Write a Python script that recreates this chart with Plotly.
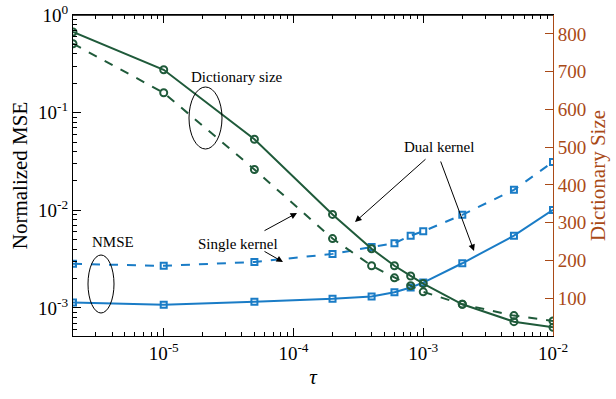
import plotly.graph_objects as go

# ---- data ----
tau = [2e-6, 1e-5, 5e-5, 2e-4, 4e-4, 6e-4, 8e-4, 1e-3, 2e-3, 5e-3, 1e-2]
nmse_dual = [1.14e-3, 1.08e-3, 1.16e-3, 1.24e-3, 1.31e-3, 1.45e-3, 1.62e-3, 1.82e-3, 2.87e-3, 5.5e-3, 1.01e-2]
nmse_single = [2.83e-3, 2.7e-3, 2.96e-3, 3.58e-3, 4.2e-3, 4.6e-3, 5.5e-3, 6.1e-3, 9.0e-3, 1.62e-2, 3.13e-2]
dict_dual = [805, 705, 521, 322, 231, 186, 159, 139, 84, 38, 23]
dict_single = [774, 644, 441, 258, 186, 154, 133, 117, 84, 54, 40]

x_tickvals = [1e-5, 1e-4, 1e-3, 1e-2]
x_ticktext = ["10<sup>-5</sup>", "10<sup>-4</sup>", "10<sup>-3</sup>", "10<sup>-2</sup>"]
y_tickvals = [1e-3, 1e-2, 1e-1, 1e0]
y_ticktext = ["10<sup>-3</sup>", "10<sup>-2</sup>", "10<sup>-1</sup>", "10<sup>0</sup>"]
y2_tickvals = [100, 200, 300, 400, 500, 600, 700, 800]

# minor tick positions (2..9 x 10^d)
x_minor = [k * 10.0 ** d for d in range(-6, -2) for k in range(2, 10)]
y_minor = [k * 10.0 ** d for d in range(-4, 0) for k in range(2, 10)]

GREEN = "#1f5a3a"
BLUE = "#1a7cc6"
BROWN = "#a94a17"
FONT = "Liberation Serif"
XR = [-5.699, -2]
YR = [-3.287, 0]

fig = go.Figure()
fig.add_trace(go.Scatter(x=tau, y=nmse_single, mode="lines+markers", yaxis="y",
                         line=dict(color=BLUE, width=2, dash="dash"),
                         marker=dict(symbol="square-open", size=6, color=BLUE, line=dict(width=2))))
fig.add_trace(go.Scatter(x=tau, y=nmse_dual, mode="lines+markers", yaxis="y",
                         line=dict(color=BLUE, width=2),
                         marker=dict(symbol="square-open", size=6, color=BLUE, line=dict(width=2))))
fig.add_trace(go.Scatter(x=tau, y=dict_single, mode="lines+markers", yaxis="y2",
                         line=dict(color=GREEN, width=2, dash="dash"),
                         marker=dict(symbol="circle-open", size=7, color=GREEN, line=dict(width=2))))
fig.add_trace(go.Scatter(x=tau, y=dict_dual, mode="lines+markers", yaxis="y2",
                         line=dict(color=GREEN, width=2),
                         marker=dict(symbol="circle-open", size=7, color=GREEN, line=dict(width=2))))

FW, FH = 616, 399
L, R, T, B = 73, 553, 15, 336
W, H = R - L, B - T


def px(x):
    return (x - L) / W


def py(y):
    return (B - y) / H


shapes = [
    dict(type="circle", xref="paper", yref="paper",
         x0=px(189), x1=px(222), y0=py(149), y1=py(87), line=dict(color="black", width=1)),
    dict(type="circle", xref="paper", yref="paper",
         x0=px(88), x1=px(114), y0=py(313), y1=py(255), line=dict(color="black", width=1)),
    dict(type="line", xref="paper", yref="paper", x0=0, x1=1, y0=1, y1=1,
         line=dict(color="black", width=1.5)),
]


def label(text, x, y):
    return dict(text=text, xref="paper", yref="paper", x=px(x), y=py(y), showarrow=False,
                xanchor="center", yanchor="middle",
                font=dict(family=FONT, size=15, color="black"))


def arrow(tail, tip):
    return dict(text=" ", xref="paper", yref="paper", x=px(tip[0]), y=py(tip[1]),
                ax=tail[0] - tip[0], ay=tail[1] - tip[1], axref="pixel", ayref="pixel",
                showarrow=True, arrowhead=2, arrowsize=1.3, arrowwidth=1, arrowcolor="black",
                standoff=0, startstandoff=0, font=dict(size=6))


annotations = [
    label("Dictionary size", 237, 77),
    label("NMSE", 113, 242),
    label("Dual kernel", 439, 147),
    label("Single kernel", 238, 244),
    arrow((428, 157), (355, 222)),
    arrow((439, 157), (474, 251)),
    arrow((262, 232), (297, 213)),
    arrow((262, 250), (283, 262)),
]

tick_common = dict(showgrid=False, zeroline=False, automargin=False, tickwidth=1)

fig.update_layout(
    width=FW, height=FH,
    margin=dict(l=L, r=FW - R, t=T, b=FH - B, autoexpand=False),
    paper_bgcolor="white", plot_bgcolor="white",
    showlegend=False,
    font=dict(family=FONT, size=19, color="black"),
    xaxis=dict(type="log", range=XR, tickvals=x_tickvals, ticktext=x_ticktext,
               ticks="inside", ticklen=8, tickcolor="black",
               minor=dict(tickmode="array", tickvals=x_minor, ticks="inside", ticklen=4,
                          tickcolor="black", tickwidth=1, showgrid=False),
               showline=True, linecolor="black", linewidth=1, mirror="ticks",
               tickfont=dict(family=FONT, size=19),
               title=dict(text="<i>τ</i>", font=dict(family=FONT, size=21), standoff=6),
               **tick_common),
    yaxis=dict(type="log", range=YR, tickvals=y_tickvals, ticktext=y_ticktext,
               ticks="inside", ticklen=8, tickcolor="black",
               minor=dict(tickmode="array", tickvals=y_minor, ticks="inside", ticklen=4,
                          tickcolor="black", tickwidth=1, showgrid=False),
               showline=True, linecolor="black", linewidth=1,
               tickfont=dict(family=FONT, size=19), ticklabeloverflow="allow",
               title=dict(text="Normalized MSE", font=dict(family=FONT, size=21), standoff=4),
               **tick_common),
    yaxis2=dict(overlaying="y", side="right", range=[0, 850], tickvals=y2_tickvals,
                ticks="inside", ticklen=8, tickcolor=BROWN,
                showline=True, linecolor=BROWN, linewidth=1,
                tickfont=dict(family=FONT, size=19, color=BROWN),
                title=dict(text="Dictionary Size", font=dict(family=FONT, size=21, color=BROWN), standoff=4),
                **tick_common),
    shapes=shapes,
    annotations=annotations,
)

fig.write_html("out.html", config={"displayModeBar": False},
               post_script="document.body.style.margin='0';document.body.style.overflow='hidden';")
